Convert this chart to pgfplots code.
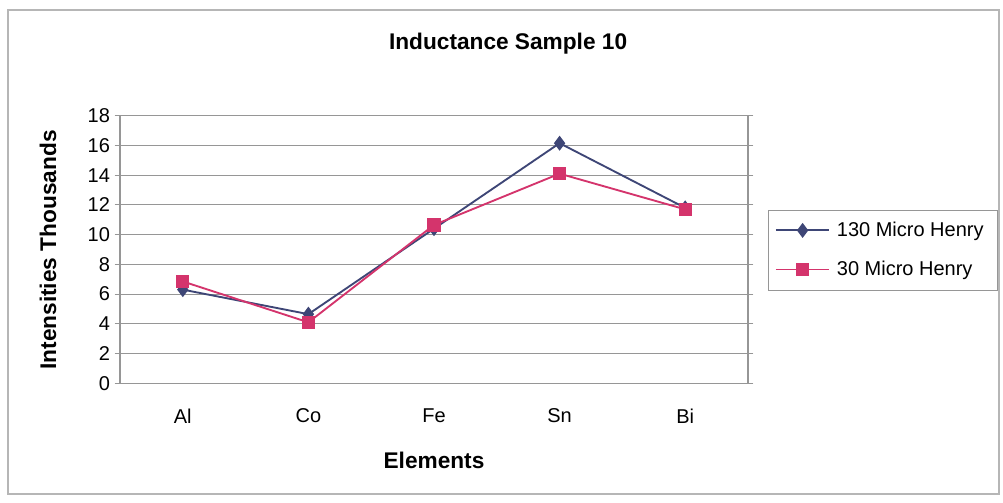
\documentclass[border=0pt]{standalone}
\usepackage{pgfplots}
\pgfplotsset{compat=1.18}
\usepackage{fontspec}
\setmainfont{Liberation Sans}
\definecolor{navyS}{RGB}{62,70,118}
\definecolor{pinkS}{RGB}{212,52,108}
\definecolor{gridG}{RGB}{150,150,150}
\begin{document}
\begin{tikzpicture}
\path[use as bounding box] (0pt,0pt) rectangle (752.25pt,377.25pt);
\draw[gridG!70,line width=0.8pt] (6pt,6.75pt) rectangle (749.25pt,369.75pt);
\begin{axis}[
  at={(90pt,89.78pt)}, anchor=south west,
  scale only axis, width=471pt, height=200.7pt,
  xmin=0.5, xmax=5.5, ymin=0, ymax=18,
  xtick={1,2,3,4,5},
  xticklabels={Al,Co,Fe,Sn,Bi},
  extra x ticks={0.5,1.5,2.5,3.5,4.5,5.5},
  extra x tick labels={},
  extra x tick style={major tick length=5pt, tick style={gridG, line width=0.6pt}, grid=none},
  ytick={0,2,...,18},
  ymajorgrids, grid style={gridG, line width=0.6pt},
  axis line style={gridG, line width=0.8pt},
  tick align=outside, major tick length=4pt,
  tick style={gridG, line width=0.6pt},
  xtick style={draw=none},
  xticklabel style={font=\fontsize{15}{17}\selectfont, yshift=-11.5pt},
  yticklabel style={font=\fontsize{15}{17}\selectfont},
  /pgf/number format/assume math mode=true,
  title={Inductance Sample 10},
  title style={font=\bfseries\fontsize{17}{20}\selectfont, at={(0.618,1.238)}, anchor=center},
  xlabel={Elements},
  xlabel style={font=\bfseries\fontsize{17}{20}\selectfont, at={(0.5,-0.287)}, anchor=center},
  ylabel={Intensities Thousands},
  ylabel style={font=\bfseries\fontsize{17}{20}\selectfont, at={(-0.1146,0.498)}, anchor=center},
  legend style={at={(1.032,0.648)}, anchor=north west, draw=gridG,
    font=\fontsize{15}{17}\selectfont, row sep=13pt, inner xsep=5pt, inner ysep=7pt,
    nodes={inner xsep=5pt}},
  legend cell align=left,
  legend image code/.code={
    \draw[#1, mark=none, line width=1.4pt] (0pt,0pt) -- (40pt,0pt);
    \draw[#1] plot coordinates {(20pt,0pt)};},
]
\addplot[navyS, line width=1.4pt, mark=diamond*, mark size=4.5pt, mark options={fill=navyS, draw=navyS}]
  coordinates {(1,6.3) (2,4.65) (3,10.4) (4,16.15) (5,11.8)};
\addlegendentry{130 Micro Henry}
\addplot[pinkS, line width=1.4pt, mark=square*, mark size=4.3pt, mark options={fill=pinkS, draw=pinkS}]
  coordinates {(1,6.85) (2,4.1) (3,10.65) (4,14.1) (5,11.7)};
\addlegendentry{30 Micro Henry}
\end{axis}
\end{tikzpicture}
\end{document}
